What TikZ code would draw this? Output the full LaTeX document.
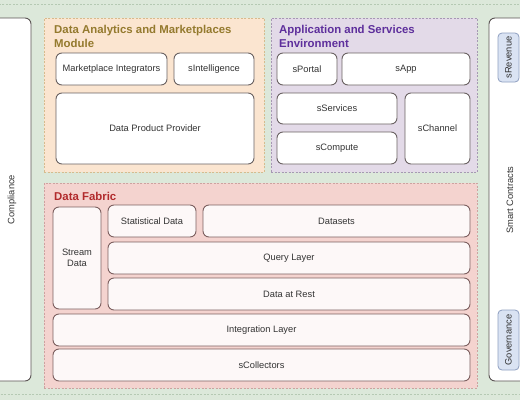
\documentclass[tikz,border=0pt]{standalone}
\usepackage{fontspec}
\setmainfont{Liberation Sans}
\definecolor{bggreen}{HTML}{DCE8DA}
\definecolor{bgline}{HTML}{B5C9B3}
\definecolor{orfill}{HTML}{FBE5D0}
\definecolor{orline}{HTML}{D6BB8E}
\definecolor{ortext}{HTML}{947A2E}
\definecolor{pufill}{HTML}{E3DAE8}
\definecolor{puline}{HTML}{A698B3}
\definecolor{putext}{HTML}{5E2F9C}
\definecolor{refill}{HTML}{F4D3CF}
\definecolor{reline}{HTML}{CDA2A0}
\definecolor{retext}{HTML}{B12A2C}
\definecolor{blfill}{HTML}{DAE3F3}
\definecolor{blline}{HTML}{8E9FC0}
\definecolor{boxline}{HTML}{6A6262}
\definecolor{fabline}{HTML}{7C5F5F}
\definecolor{labtext}{HTML}{333333}
\begin{document}
\begin{tikzpicture}[x=1pt, y=-1pt,
    every node/.style={text=labtext, font=\fontsize{9.3}{11}\selectfont},
    box/.style={draw=boxline, line width=0.9pt, fill=white, rounded corners=6pt, align=center},
    fabbox/.style={box, draw=fabline, fill=white!85!refill},
    group/.style={draw, line width=0.8pt, dash pattern=on 2pt off 1.5pt},
    sidebar/.style={draw=boxline!85!black, line width=0.9pt, fill=white, rounded corners=6pt},
    tag/.style={draw=blline, line width=0.8pt, fill=blfill, rounded corners=4pt},
    title/.style={anchor=north west, inner sep=0pt, align=left,
        font=\fontsize{11.4}{13.5}\selectfont\bfseries}]

    % page and background
    \useasboundingbox (0, 0) rectangle (520, 400);
    \clip (0, 0) rectangle (520, 400);
    \fill[bggreen] (0, 0) rectangle (520, 400);
    \draw[bgline, group] (-5, 4) rectangle (525, 394);

    % side bars
    \node[sidebar, minimum width=38pt, minimum height=363pt] at (12, 199.5) (compliance) {};
    \node[rotate=90] at (compliance.center) (compliancetxt) {Compliance};
    \node[sidebar, minimum width=42pt, minimum height=363pt] at (510, 199.5) (smart) {};
    \node[rotate=90] at (510, 200) (smarttxt) {Smart Contracts};
    \node[tag, minimum width=21pt, minimum height=49pt] at (508.5, 57.5) (revenue) {};
    \node[rotate=90] at (revenue.center) (revenuetxt) {sRevenue};
    \node[tag, minimum width=21pt, minimum height=60pt] at (508.5, 340) (governance) {};
    \node[rotate=90] at (governance.center) (governancetxt) {Governance};

    % groups
    \node[group, draw=orline, fill=orfill, minimum width=220pt, minimum height=154pt] at (154, 95) (analytics) {};
    \node[group, draw=puline, fill=pufill, minimum width=206pt, minimum height=154pt] at (374, 95) (apps) {};
    \node[group, draw=reline, fill=refill, minimum width=433pt, minimum height=205pt] at (260.5, 285.5) (fabric) {};

    \node[title, text=ortext] at (54, 25.5) (analyticstitle) {Data Analytics and Marketplaces\\Module};
    \node[title, text=putext] at (279, 25.5) (appstitle) {Application and Services\\Environment};
    \node[title, text=retext] at (54, 192) (fabrictitle) {Data Fabric};

    % data analytics and marketplaces
    \node[box, minimum width=111pt, minimum height=32pt] at (111.5, 69)  (market)   {Marketplace Integrators};
    \node[box, minimum width=80pt,  minimum height=32pt] at (214, 69)    (intel)    {sIntelligence};
    \node[box, minimum width=198pt, minimum height=71pt] at (155, 128.5) (provider) {Data Product Provider};

    % application and services
    \node[box, minimum width=60pt,  minimum height=32pt] at (307, 69)    (portal)   {sPortal};
    \node[box, minimum width=128pt, minimum height=32pt] at (406, 69)    (sapp)     {sApp};
    \node[box, minimum width=120pt, minimum height=31pt] at (337, 108.5) (services) {sServices};
    \node[box, minimum width=120pt, minimum height=32pt] at (337, 148)   (compute)  {sCompute};
    \node[box, minimum width=65pt,  minimum height=71pt] at (437.5, 128.5) (channel) {sChannel};

    % data fabric
    \node[fabbox, minimum width=48pt,  minimum height=102pt] at (77, 258)   (stream)      {Stream\\Data};
    \node[fabbox, minimum width=88pt,  minimum height=32pt]  at (152, 221)  (statistical) {Statistical Data};
    \node[fabbox, minimum width=267pt, minimum height=32pt]  at (336.5, 221) (datasets)   {Datasets};
    \node[fabbox, minimum width=362pt, minimum height=32pt]  at (289, 258)  (query)       {Query Layer};
    \node[fabbox, minimum width=362pt, minimum height=32pt]  at (289, 294)  (rest)        {Data at Rest};
    \node[fabbox, minimum width=417pt, minimum height=32pt]  at (261.5, 330) (integration) {Integration Layer};
    \node[fabbox, minimum width=417pt, minimum height=32pt]  at (261.5, 365) (collectors)  {sCollectors};

\end{tikzpicture}
\end{document}
